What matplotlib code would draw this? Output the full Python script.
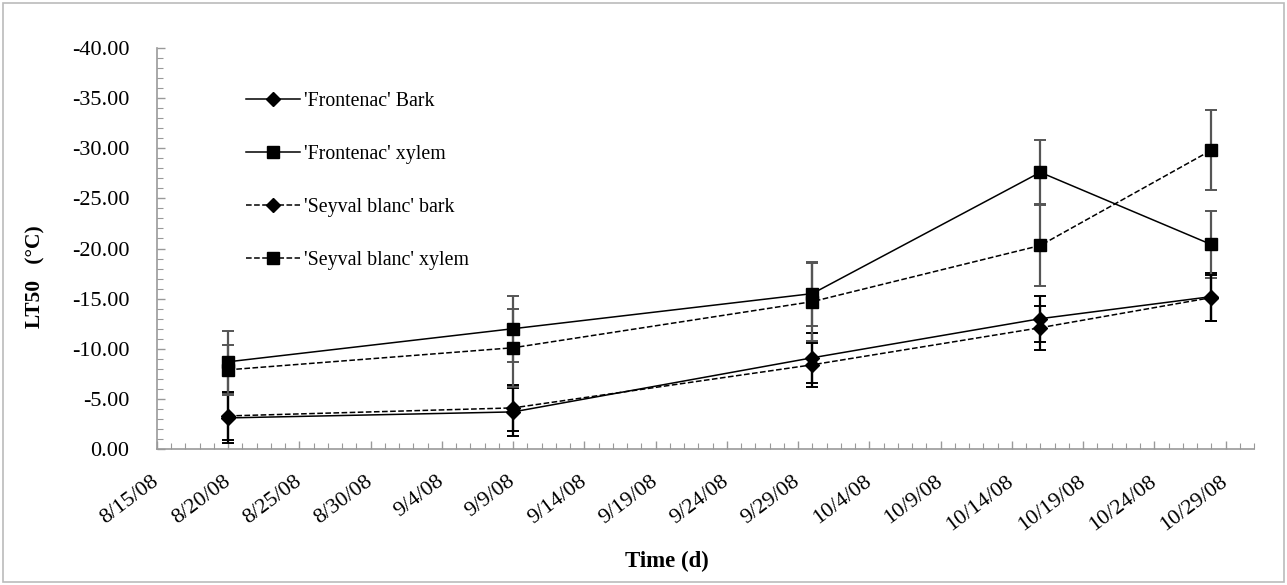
import datetime as dt
import matplotlib
matplotlib.use("Agg")
import matplotlib.pyplot as plt
import matplotlib.dates as mdates
from matplotlib.patches import Rectangle
from matplotlib.ticker import FuncFormatter, MultipleLocator

plt.rcParams.update({
    "font.family": ["Liberation Serif", "DejaVu Serif"],
    "font.size": 14,
})

# ---- data (LT50, degC) ----
sample_dates = ["2008-08-20", "2008-09-09", "2008-09-30", "2008-10-16", "2008-10-28"]

frontenac_bark = [-3.1, -3.7, -9.1, -13.0, -15.2]
frontenac_bark_err = [2.5, 2.4, 2.5, 2.3, 2.4]

frontenac_xylem = [-8.7, -12.0, -15.5, -27.6, -20.4]
frontenac_xylem_err = [3.1, 3.3, 3.2, 3.2, 3.3]

seyval_bark = [-3.3, -4.1, -8.4, -12.1, -15.1]
seyval_bark_err = [2.4, 2.3, 2.2, 2.2, 2.3]

seyval_xylem = [-7.9, -10.1, -14.7, -20.3, -29.8]
seyval_xylem_err = [2.5, 3.9, 3.9, 4.0, 4.0]

labels = ["'Frontenac' Bark", "'Frontenac' xylem",
          "'Seyval blanc' bark", "'Seyval blanc' xylem"]

x = [dt.datetime.strptime(d, "%Y-%m-%d") for d in sample_dates]

# ---- figure ----
W, H = 1287, 585
fig = plt.figure(figsize=(W / 100, H / 100), dpi=100)
ax = fig.add_axes([157 / W, 1 - 449 / H, (1254 - 157) / W, (449 - 48) / H])

# outer chart border like excel
fig.patches.append(Rectangle((3 / W, 3 / H), 1281 / W, 579 / H,
                             transform=fig.transFigure, fill=False,
                             edgecolor="#bbbbbb", linewidth=1.2))

series = [
    (frontenac_bark, frontenac_bark_err, "-", "D", 7, "black"),
    (frontenac_xylem, frontenac_xylem_err, "-", "s", 8, "#555555"),
    (seyval_bark, seyval_bark_err, "--", "D", 7, "black"),
    (seyval_xylem, seyval_xylem_err, "--", "s", 8, "#555555"),
]

handles = []
for (vals, errs, ls, mk, ms, ecol), lab in zip(series, labels):
    ax.errorbar(x, vals, yerr=errs, fmt="none", ecolor=ecol,
                elinewidth=1.6, capsize=4, capthick=1.4, zorder=2)
    h, = ax.plot(x, vals, linestyle=ls, color="black", linewidth=1.1,
                 marker=mk, markersize=ms, markerfacecolor="black",
                 markeredgecolor="black", label=lab, zorder=3)
    handles.append(h)

# ---- axes ----
ax.set_xlim(dt.datetime(2008, 8, 15), dt.datetime(2008, 10, 31))
ax.set_ylim(0, -40)

major_days = [dt.datetime(2008, 8, 15) + dt.timedelta(days=5 * i) for i in range(16)]
ax.set_xticks(major_days)
ax.xaxis.set_minor_locator(mdates.DayLocator())
ax.xaxis.set_major_formatter(FuncFormatter(
    lambda v, p: "{0}/{1}/{2:02d}".format(mdates.num2date(v).month,
                                          mdates.num2date(v).day,
                                          mdates.num2date(v).year % 100)))

ax.yaxis.set_major_locator(MultipleLocator(5))
ax.yaxis.set_minor_locator(MultipleLocator(1))
ax.yaxis.set_major_formatter(FuncFormatter(lambda v, p: "%.2f" % v if v != 0 else "0.00"))

for s in ["top", "right"]:
    ax.spines[s].set_visible(False)
for s in ["left", "bottom"]:
    ax.spines[s].set_color("#999999")
    ax.spines[s].set_linewidth(1.2)

ax.tick_params(which="major", direction="in", length=6, color="#999999", width=1.0)
ax.tick_params(which="minor", direction="in", length=4, color="#999999", width=0.8)
ax.tick_params(axis="y", labelsize=16, pad=20)
ax.tick_params(axis="x", labelsize=16, pad=22)

for lbl in ax.get_xticklabels():
    lbl.set_rotation(37)
    lbl.set_ha("right")
    lbl.set_va("center")
    lbl.set_rotation_mode("anchor")

fig.text(667 / W, 1 - 561 / H, "Time (d)", fontsize=16.5, fontweight="bold",
         ha="center", va="center")
fig.text(35 / W, 1 - 277 / H, "LT50   (\u00b0C)", fontsize=15.5, fontweight="bold",
         rotation=90, ha="center", va="center")

ax.legend(handles=handles, loc="upper left", bbox_to_anchor=(0.065, 0.935),
          frameon=False, fontsize=14.3, handlelength=2.7, handletextpad=0.2,
          labelspacing=1.72, numpoints=1)

fig.savefig("out.png", dpi=100)
